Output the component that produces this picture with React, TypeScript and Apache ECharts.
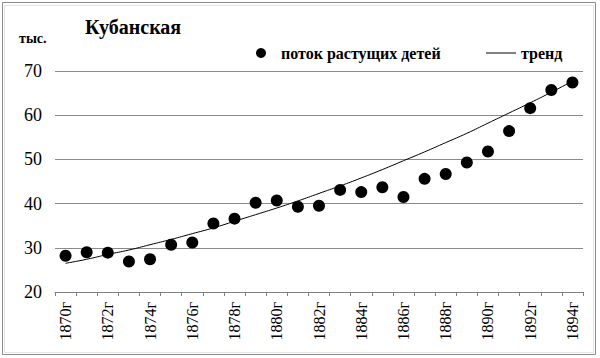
import React, { useEffect, useRef } from "react";
import * as echarts from "echarts";

const years = [
  "1870г", "1871г", "1872г", "1873г", "1874г", "1875г", "1876г", "1877г", "1878г",
  "1879г", "1880г", "1881г", "1882г", "1883г", "1884г", "1885г", "1886г", "1887г",
  "1888г", "1889г", "1890г", "1891г", "1892г", "1893г", "1894г",
];
const flowValues = [
  28.2, 29.0, 28.9, 26.9, 27.4, 30.7, 31.2, 35.5, 36.6, 40.2, 40.7, 39.3, 39.5,
  43.1, 42.6, 43.7, 41.5, 45.6, 46.7, 49.3, 51.8, 56.4, 61.6, 65.7, 67.4,
];
const trendValues = [
  26.5, 27.4, 28.5, 29.5, 30.7, 31.9, 33.2, 34.5, 36.0, 37.5, 39.0, 40.6, 42.3,
  44.0, 45.8, 47.7, 49.7, 51.7, 53.8, 55.9, 58.2, 60.5, 62.8, 65.2, 67.7,
];
const seriesNames = ["поток растущих детей", "тренд"];
const titleText = "Кубанская";
const unitText = "тыс.";

const FONT = "Liberation Serif";

export default function App() {
  const ref = useRef<HTMLDivElement>(null);
  useEffect(() => {
    document.body.style.margin = "0";
    const chart = echarts.init(ref.current!, null, { renderer: "svg" });
    chart.setOption({
      animation: false,
      backgroundColor: "#ffffff",
      textStyle: { fontFamily: FONT, color: "#000" },
      title: {
        text: titleText,
        left: 80,
        top: 12,
        textStyle: { fontFamily: FONT, fontSize: 20, fontWeight: "bold", color: "#000" },
      },
      graphic: [
        {
          type: "rect",
          shape: { x: 2.5, y: 2.5, width: 593, height: 352 },
          style: { fill: "none", stroke: "#8c8c8c", lineWidth: 1 },
        },
        {
          type: "rect",
          shape: { x: 4.5, y: 5.5, width: 589, height: 347 },
          style: { fill: "none", stroke: "#e4e4e4", lineWidth: 1 },
        },
        {
          type: "text",
          left: 19,
          top: 31,
          style: { text: unitText, fontFamily: FONT, fontSize: 14, fontWeight: "bold", fill: "#000" },
        },
      ],
      legend: [
        {
          data: [{ name: seriesNames[0], icon: "circle" }],
          left: 251,
          top: 40,
          itemWidth: 10,
          itemHeight: 10,
          textStyle: { fontFamily: FONT, fontSize: 16, fontWeight: "bold", color: "#000", padding: [0, 0, 0, 10] },
        },
        {
          data: [{ name: seriesNames[1], icon: "rect" }],
          left: 481,
          top: 40,
          itemWidth: 30,
          itemHeight: 1,
          itemStyle: { color: "#000" },
          textStyle: { fontFamily: FONT, fontSize: 16, fontWeight: "bold", color: "#000", padding: [0, 0, 0, 0] },
        },
      ],
      grid: { left: 55, right: 17, top: 71, bottom: 66 },
      xAxis: {
        type: "category",
        data: years,
        boundaryGap: true,
        axisLine: { show: true, lineStyle: { color: "#808080", width: 1 } },
        axisTick: { show: true, alignWithLabel: false, interval: 0, length: 4, lineStyle: { color: "#808080" } },
        axisLabel: {
          interval: 1,
          rotate: 90,
          margin: 10,
          fontFamily: FONT,
          fontSize: 16,
          color: "#000",
        },
        splitLine: { show: false },
      },
      yAxis: {
        type: "value",
        min: 20,
        max: 70,
        interval: 10,
        axisLine: { show: false },
        axisTick: { show: false },
        axisLabel: { fontFamily: FONT, fontSize: 18, color: "#000", margin: 13 },
        splitLine: { show: true, lineStyle: { color: "#8a8a8a", width: 1 } },
      },
      series: [
        {
          name: seriesNames[0],
          type: "scatter",
          data: flowValues,
          symbol: "circle",
          symbolSize: 12,
          itemStyle: { color: "#000", opacity: 1 },
          z: 3,
        },
        {
          name: seriesNames[1],
          type: "line",
          data: trendValues,
          symbol: "none",
          smooth: true,
          lineStyle: { color: "#000", width: 1 },
          itemStyle: { color: "#000" },
          z: 2,
        },
      ],
    });
    return () => chart.dispose();
  }, []);
  return (
    <div
      ref={ref}
      style={{ position: "absolute", left: 0, top: 0, width: 600, height: 358 }}
    />
  );
}
